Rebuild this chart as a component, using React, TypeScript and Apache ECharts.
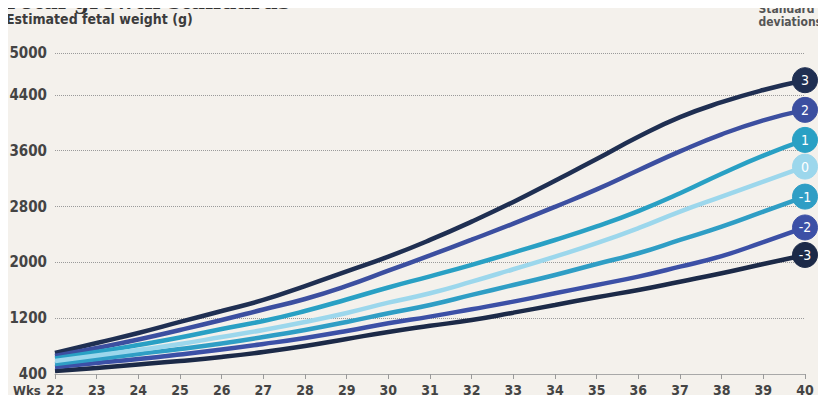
import React, { useEffect, useRef } from "react";
import * as echarts from "echarts";

const weeks = [22, 23, 24, 25, 26, 27, 28, 29, 30, 31, 32, 33, 34, 35, 36, 37, 38, 39, 40];
const sdLabels = ["3", "2", "1", "0", "-1", "-2", "-3"];
const sdPlus3 = [701, 844, 988, 1146, 1303, 1461, 1660, 1870, 2082, 2321, 2584, 2866, 3171, 3480, 3800, 4080, 4295, 4470, 4610];
const sdPlus2 = [658, 773, 895, 1031, 1174, 1325, 1475, 1662, 1880, 2100, 2325, 2555, 2795, 3045, 3320, 3590, 3835, 4035, 4185];
const sdPlus1 = [622, 715, 816, 923, 1045, 1160, 1303, 1468, 1640, 1800, 1965, 2140, 2320, 2515, 2735, 2990, 3270, 3530, 3755];
const sdZero = [586, 665, 744, 830, 930, 1031, 1146, 1275, 1422, 1557, 1723, 1901, 2082, 2274, 2489, 2727, 2942, 3157, 3372];
const sdMinus1 = [543, 615, 687, 758, 837, 930, 1031, 1146, 1270, 1389, 1533, 1676, 1819, 1977, 2130, 2321, 2512, 2727, 2942];
const sdMinus2 = [500, 558, 615, 680, 751, 830, 916, 1016, 1127, 1222, 1328, 1437, 1557, 1676, 1795, 1938, 2090, 2290, 2500];
const sdMinus3 = [443, 486, 536, 586, 644, 715, 801, 902, 1002, 1090, 1174, 1279, 1389, 1500, 1604, 1723, 1844, 1977, 2106];
const yTicks = { min: 400, max: 5000, interval: 800 };

const seriesValues = [sdPlus3, sdPlus2, sdPlus1, sdZero, sdMinus1, sdMinus2, sdMinus3];
const colors = ["#1f2f52", "#3c4fa0", "#29a0c4", "#9cd7ec", "#2f9ec5", "#3c50a6", "#1c2a48"];

const FONT = "'DejaVu Sans Condensed', 'DejaVu Sans', sans-serif";

export default function App() {
  const ref = useRef<HTMLDivElement>(null);
  useEffect(() => {
    if (!ref.current) return;
    const chart = echarts.init(ref.current, undefined, { renderer: "svg" });
    const series = seriesValues.map((vals, i) => ({
      type: "line",
      name: sdLabels[i],
      smooth: 0.5,
      symbol: "none",
      showSymbol: true,
      showAllSymbol: true,
      z: 10 - Math.abs(i - 3),
      lineStyle: { color: colors[i], width: 4.5 },
      itemStyle: { color: colors[i] },
      data: vals.map((v, j) =>
        j === vals.length - 1
          ? {
              value: [weeks[j], v],
              symbol: "circle",
              symbolSize: 25,
              itemStyle: { color: colors[i], borderColor: colors[i] },
              label: {
                show: true,
                position: "inside",
                formatter: sdLabels[i],
                color: "#ffffff",
                fontSize: 14,
                fontFamily: FONT,
              },
            }
          : { value: [weeks[j], v] }
      ),
    }));
    chart.setOption({
      animation: false,
      backgroundColor: "#f4f1ec",
      grid: { left: 55, right: 21, top: 53, bottom: 29 },
      xAxis: {
        type: "value",
        min: 22,
        max: 40,
        interval: 1,
        axisLine: { show: true, lineStyle: { color: "#a8a8a8", width: 1 } },
        axisTick: { show: true, length: 5, inside: false, lineStyle: { color: "#9a9a9a" } },
        splitLine: { show: false },
        axisLabel: {
          margin: 9,
          color: "#444444",
          fontSize: 14,
          fontWeight: "bold",
          fontFamily: FONT,
        },
      },
      yAxis: {
        type: "value",
        min: yTicks.min,
        max: yTicks.max,
        interval: yTicks.interval,
        axisLine: { show: false },
        axisTick: { show: false },
        splitLine: { show: true, lineStyle: { color: "#9a9a9a", type: "dotted", width: 1 } },
        axisLabel: {
          showMaxLabel: true,
          margin: 8,
          color: "#444444",
          fontSize: 15,
          fontWeight: "bold",
          fontFamily: FONT,
          formatter: (v: number) => String(v),
        },
      },
      graphic: [
        {
          type: "text",
          left: 5,
          top: -10,
          style: {
            text: "Fetal growth standards",
            font: "bold 22px 'DejaVu Serif', serif",
            fill: "#333333",
          },
        },
        {
          type: "text",
          left: 6,
          top: 12,
          style: {
            text: "Estimated fetal weight (g)",
            font: "bold 14px " + FONT,
            fill: "#3c3c3c",
          },
        },
        {
          type: "text",
          right: 4,
          top: 2,
          style: {
            text: "Standard\ndeviations",
            font: "bold 12px " + FONT,
            fill: "#555555",
            align: "right",
            lineHeight: 13,
          },
        },
        {
          type: "text",
          left: 13,
          top: 384,
          style: {
            text: "Wks",
            font: "bold 13px " + FONT,
            fill: "#444444",
          },
        },
      ],
      series,
    });
    return () => chart.dispose();
  }, []);
  return <div ref={ref} style={{ width: 826, height: 403, margin: -8 }} />;
}
